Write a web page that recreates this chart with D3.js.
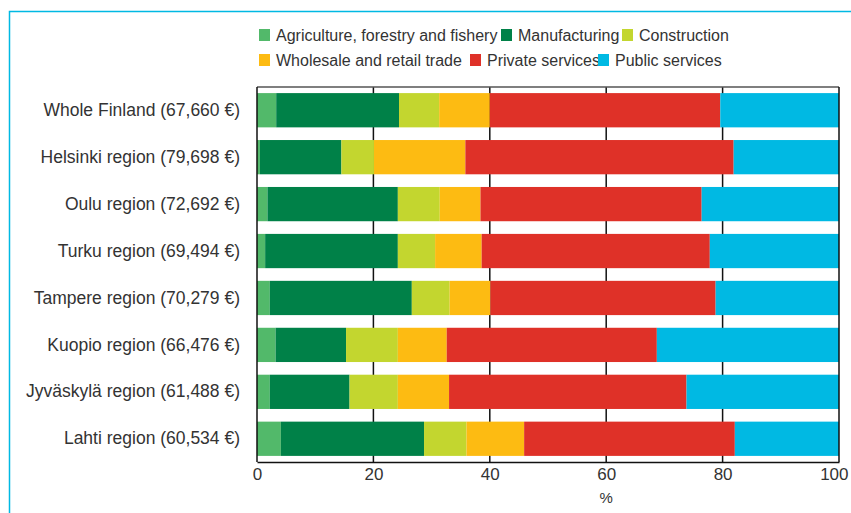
<!DOCTYPE html>
<html>
<head>
<meta charset="utf-8">
<script src="https://cdn.jsdelivr.net/npm/d3@7"></script>
<style>
  body { margin: 0; background: #fff; }
  text { font-family: "Liberation Sans", Arial, sans-serif; }
</style>
</head>
<body>
<div id="my_dataviz"></div>
<script>
// data (shares in %)
var regions = ["Whole Finland (67,660 €)", "Helsinki region (79,698 €)", "Oulu region (72,692 €)",
  "Turku region (69,494 €)", "Tampere region (70,279 €)", "Kuopio region (66,476 €)",
  "Jyväskylä region (61,488 €)", "Lahti region (60,534 €)"];
var sectors = ["Agriculture, forestry and fishery", "Manufacturing", "Construction",
  "Wholesale and retail trade", "Private services", "Public services"];
var agriculture   = [3.3, 0.5, 1.8, 1.4, 2.2, 3.2, 2.2, 4.1];
var manufacturing = [21.1, 14.0, 22.4, 22.8, 24.4, 12.1, 13.7, 24.6];
var construction  = [6.9, 5.6, 7.2, 6.4, 6.5, 8.9, 8.3, 7.3];
var wholesale     = [8.7, 15.7, 7.0, 8.0, 7.0, 8.4, 8.8, 9.9];
var privateServ   = [39.6, 46.1, 38.0, 39.2, 38.7, 36.1, 40.8, 36.2];
var publicServ    = [20.4, 18.1, 23.6, 22.2, 21.2, 31.3, 26.2, 17.9];
var xTicks = [0, 20, 40, 60, 80, 100];

var colors = ["#52b96a", "#008148", "#c3d62f", "#fdbb12", "#df3128", "#00b9e3"];
var series = [agriculture, manufacturing, construction, wholesale, privateServ, publicServ];

var table = regions.map(function(r, i) {
  var row = {region: r};
  sectors.forEach(function(s, j) { row[s] = series[j][i]; });
  return row;
});

var W = 851, H = 513;
var margin = {top: 87, right: 12, bottom: 51, left: 257};
var width = W - margin.left - margin.right,
    height = H - margin.top - margin.bottom;

var root = d3.select("#my_dataviz").append("svg")
  .attr("width", W).attr("height", H);

// cyan frame (top and left)
root.append("path")
  .attr("d", "M9.5," + H + "V11.5H" + W)
  .attr("fill", "none").attr("stroke", "#00b9e3").attr("stroke-width", 1.5);

var svg = root.append("g")
  .attr("transform", "translate(" + margin.left + "," + margin.top + ")");

var x = d3.scaleLinear().domain([0, 100]).range([0, width]);
var y = d3.scaleBand().domain(regions).range([0, height]).paddingInner(0.27).paddingOuter(0.13);

// gridlines (behind the bars)
svg.append("g").selectAll("line")
  .data(xTicks.slice(1, -1)).enter().append("line")
    .attr("x1", function(d) { return x(d); }).attr("x2", function(d) { return x(d); })
    .attr("y1", 0).attr("y2", height)
    .attr("stroke", "#111").attr("stroke-width", 1.5);

var stack = d3.stack().keys(sectors)(table);

svg.append("g").selectAll("g")
  .data(stack).enter().append("g")
    .attr("fill", function(d, i) { return colors[i]; })
  .selectAll("rect")
  .data(function(d) { return d; }).enter().append("rect")
    .attr("x", function(d) { return x(d[0]); })
    .attr("width", function(d) { return x(d[1]) - x(d[0]); })
    .attr("y", function(d) { return y(d.data.region); })
    .attr("height", y.bandwidth());

// frame
svg.append("line").attr("x1", 0).attr("x2", width).attr("y1", 0).attr("y2", 0)
  .attr("stroke", "#555").attr("stroke-width", 1.5);
svg.append("line").attr("x1", 0).attr("x2", 0).attr("y1", 0).attr("y2", height)
  .attr("stroke", "#111").attr("stroke-width", 1.5);
svg.append("line").attr("x1", width).attr("x2", width).attr("y1", 0).attr("y2", height)
  .attr("stroke", "#111").attr("stroke-width", 1.5);

// x axis
var xAxis = svg.append("g")
  .attr("transform", "translate(0," + height + ")")
  .call(d3.axisBottom(x).tickValues(xTicks).tickSize(0).tickPadding(6));
xAxis.select(".domain").attr("stroke", "#111").attr("stroke-width", 1.5);
xAxis.selectAll("text").style("font-size", "17px").attr("fill", "#333")
  .style("font-family", "'Liberation Sans', Arial, sans-serif");
xAxis.selectAll(".tick").filter(function(d) { return d === 100; })
  .select("text").attr("text-anchor", "end").attr("dx", "9");

svg.append("text")
  .attr("x", x(60)).attr("y", height + 41)
  .attr("text-anchor", "middle")
  .style("font-size", "15px").attr("fill", "#333")
  .text("%");

// y axis labels
var yAxis = svg.append("g")
  .call(d3.axisLeft(y).tickSize(0).tickPadding(17));
yAxis.select(".domain").remove();
yAxis.selectAll("text").style("font-size", "17.5px").attr("fill", "#333")
  .style("font-family", "'Liberation Sans', Arial, sans-serif");

// legend
var legendPos = [[259, 35], [501, 35], [622, 35], [259, 60], [470, 60], [598, 60]];
var legend = root.append("g").selectAll("g")
  .data(sectors).enter().append("g")
    .attr("transform", function(d, i) { return "translate(" + legendPos[i][0] + "," + legendPos[i][1] + ")"; });
legend.append("rect")
  .attr("x", 0).attr("y", -6).attr("width", 11).attr("height", 12)
  .attr("fill", function(d, i) { return colors[i]; });
legend.append("text")
  .attr("x", 17).attr("y", 0).attr("dy", "0.35em")
  .style("font-size", "16px").attr("fill", "#333")
  .text(function(d) { return d; });
</script>
</body>
</html>
